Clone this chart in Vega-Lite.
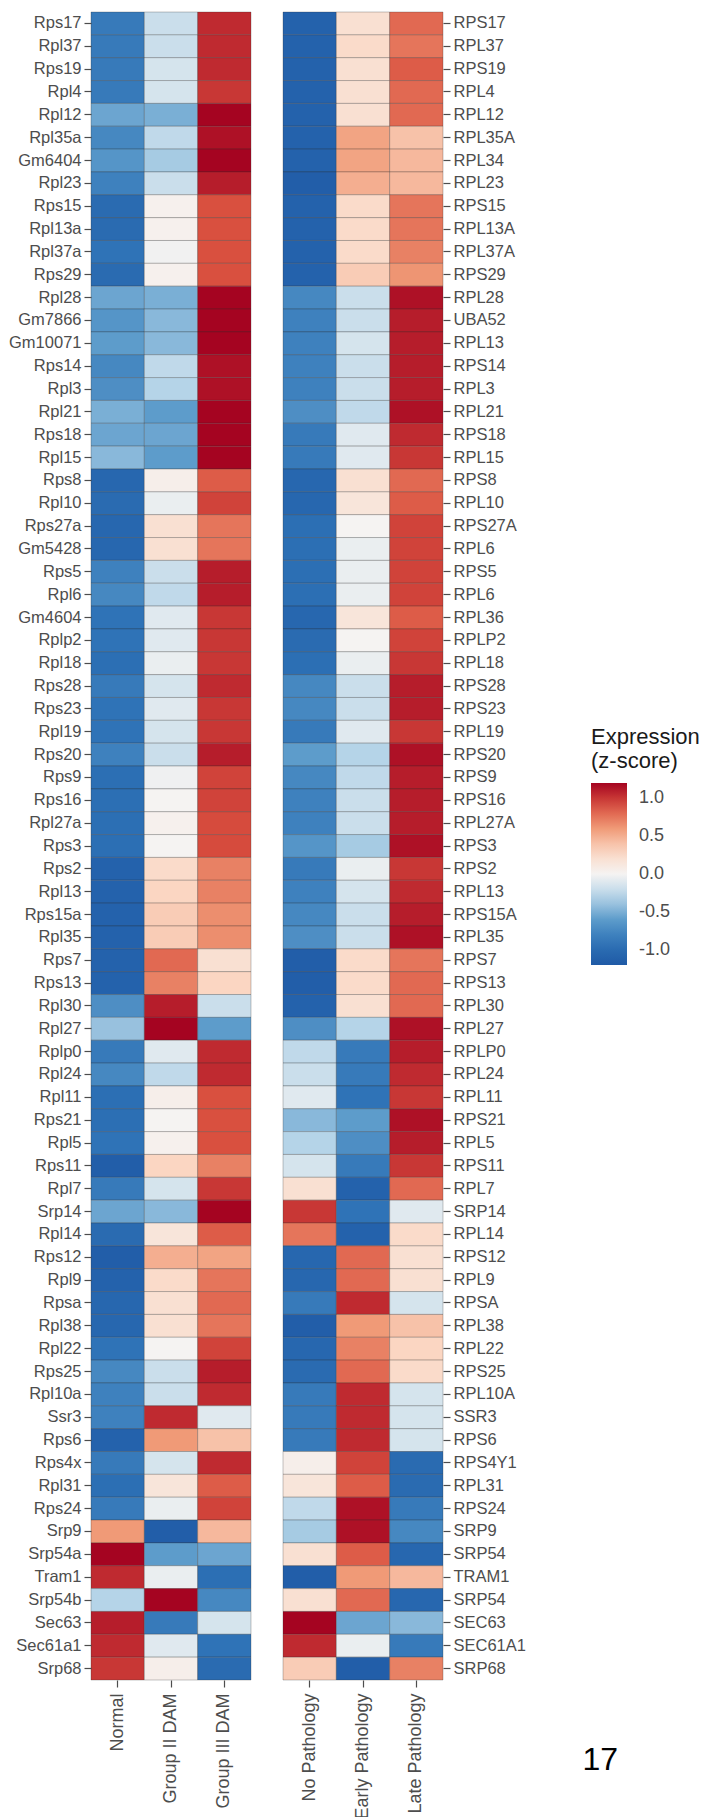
{
"$schema":"https://vega.github.io/schema/vega-lite/v6.json",
"padding":{"left":8,"top":11,"right":0,"bottom":0},
"background":"white",
"spacing":30,
"title":{"text":"17","orient":"bottom","anchor":"end","fontSize":32,"fontWeight":"normal","color":"#000000","font":"Liberation Sans","offset":-74,"dx":-82},
"datasets":{
"left":[
{"g":"Rps17","c":"Normal","v":-0.85},{"g":"Rps17","c":"Group II DAM","v":-0.2},{"g":"Rps17","c":"Group III DAM","v":1.05},
{"g":"Rpl37","c":"Normal","v":-0.85},{"g":"Rpl37","c":"Group II DAM","v":-0.2},{"g":"Rpl37","c":"Group III DAM","v":1.05},
{"g":"Rps19","c":"Normal","v":-0.85},{"g":"Rps19","c":"Group II DAM","v":-0.15},{"g":"Rps19","c":"Group III DAM","v":1.05},
{"g":"Rpl4","c":"Normal","v":-0.85},{"g":"Rpl4","c":"Group II DAM","v":-0.15},{"g":"Rpl4","c":"Group III DAM","v":1.0},
{"g":"Rpl12","c":"Normal","v":-0.55},{"g":"Rpl12","c":"Group II DAM","v":-0.5},{"g":"Rpl12","c":"Group III DAM","v":1.2},
{"g":"Rpl35a","c":"Normal","v":-0.75},{"g":"Rpl35a","c":"Group II DAM","v":-0.25},{"g":"Rpl35a","c":"Group III DAM","v":1.15},
{"g":"Gm6404","c":"Normal","v":-0.65},{"g":"Gm6404","c":"Group II DAM","v":-0.35},{"g":"Gm6404","c":"Group III DAM","v":1.2},
{"g":"Rpl23","c":"Normal","v":-0.8},{"g":"Rpl23","c":"Group II DAM","v":-0.2},{"g":"Rpl23","c":"Group III DAM","v":1.1},
{"g":"Rps15","c":"Normal","v":-1.0},{"g":"Rps15","c":"Group II DAM","v":0.03},{"g":"Rps15","c":"Group III DAM","v":0.9},
{"g":"Rpl13a","c":"Normal","v":-1.0},{"g":"Rpl13a","c":"Group II DAM","v":0.03},{"g":"Rpl13a","c":"Group III DAM","v":0.9},
{"g":"Rpl37a","c":"Normal","v":-0.9},{"g":"Rpl37a","c":"Group II DAM","v":-0.02},{"g":"Rpl37a","c":"Group III DAM","v":0.9},
{"g":"Rps29","c":"Normal","v":-1.0},{"g":"Rps29","c":"Group II DAM","v":0.03},{"g":"Rps29","c":"Group III DAM","v":0.9},
{"g":"Rpl28","c":"Normal","v":-0.55},{"g":"Rpl28","c":"Group II DAM","v":-0.5},{"g":"Rpl28","c":"Group III DAM","v":1.2},
{"g":"Gm7866","c":"Normal","v":-0.65},{"g":"Gm7866","c":"Group II DAM","v":-0.45},{"g":"Gm7866","c":"Group III DAM","v":1.2},
{"g":"Gm10071","c":"Normal","v":-0.6},{"g":"Gm10071","c":"Group II DAM","v":-0.45},{"g":"Gm10071","c":"Group III DAM","v":1.2},
{"g":"Rps14","c":"Normal","v":-0.75},{"g":"Rps14","c":"Group II DAM","v":-0.25},{"g":"Rps14","c":"Group III DAM","v":1.15},
{"g":"Rpl3","c":"Normal","v":-0.7},{"g":"Rpl3","c":"Group II DAM","v":-0.3},{"g":"Rpl3","c":"Group III DAM","v":1.15},
{"g":"Rpl21","c":"Normal","v":-0.5},{"g":"Rpl21","c":"Group II DAM","v":-0.6},{"g":"Rpl21","c":"Group III DAM","v":1.2},
{"g":"Rps18","c":"Normal","v":-0.55},{"g":"Rps18","c":"Group II DAM","v":-0.55},{"g":"Rps18","c":"Group III DAM","v":1.2},
{"g":"Rpl15","c":"Normal","v":-0.45},{"g":"Rpl15","c":"Group II DAM","v":-0.6},{"g":"Rpl15","c":"Group III DAM","v":1.2},
{"g":"Rps8","c":"Normal","v":-1.05},{"g":"Rps8","c":"Group II DAM","v":0.05},{"g":"Rps8","c":"Group III DAM","v":0.85},
{"g":"Rpl10","c":"Normal","v":-1.0},{"g":"Rpl10","c":"Group II DAM","v":-0.05},{"g":"Rpl10","c":"Group III DAM","v":0.95},
{"g":"Rps27a","c":"Normal","v":-1.05},{"g":"Rps27a","c":"Group II DAM","v":0.2},{"g":"Rps27a","c":"Group III DAM","v":0.75},
{"g":"Gm5428","c":"Normal","v":-1.05},{"g":"Gm5428","c":"Group II DAM","v":0.2},{"g":"Gm5428","c":"Group III DAM","v":0.75},
{"g":"Rps5","c":"Normal","v":-0.8},{"g":"Rps5","c":"Group II DAM","v":-0.2},{"g":"Rps5","c":"Group III DAM","v":1.1},
{"g":"Rpl6","c":"Normal","v":-0.75},{"g":"Rpl6","c":"Group II DAM","v":-0.25},{"g":"Rpl6","c":"Group III DAM","v":1.1},
{"g":"Gm4604","c":"Normal","v":-0.9},{"g":"Gm4604","c":"Group II DAM","v":-0.1},{"g":"Gm4604","c":"Group III DAM","v":1.0},
{"g":"Rplp2","c":"Normal","v":-0.9},{"g":"Rplp2","c":"Group II DAM","v":-0.1},{"g":"Rplp2","c":"Group III DAM","v":1.0},
{"g":"Rpl18","c":"Normal","v":-0.95},{"g":"Rpl18","c":"Group II DAM","v":-0.05},{"g":"Rpl18","c":"Group III DAM","v":1.0},
{"g":"Rps28","c":"Normal","v":-0.85},{"g":"Rps28","c":"Group II DAM","v":-0.15},{"g":"Rps28","c":"Group III DAM","v":1.05},
{"g":"Rps23","c":"Normal","v":-0.9},{"g":"Rps23","c":"Group II DAM","v":-0.1},{"g":"Rps23","c":"Group III DAM","v":1.0},
{"g":"Rpl19","c":"Normal","v":-0.9},{"g":"Rpl19","c":"Group II DAM","v":-0.15},{"g":"Rpl19","c":"Group III DAM","v":1.0},
{"g":"Rps20","c":"Normal","v":-0.8},{"g":"Rps20","c":"Group II DAM","v":-0.2},{"g":"Rps20","c":"Group III DAM","v":1.1},
{"g":"Rps9","c":"Normal","v":-0.95},{"g":"Rps9","c":"Group II DAM","v":-0.03},{"g":"Rps9","c":"Group III DAM","v":0.95},
{"g":"Rps16","c":"Normal","v":-0.95},{"g":"Rps16","c":"Group II DAM","v":0.0},{"g":"Rps16","c":"Group III DAM","v":0.95},
{"g":"Rpl27a","c":"Normal","v":-0.95},{"g":"Rpl27a","c":"Group II DAM","v":0.03},{"g":"Rpl27a","c":"Group III DAM","v":0.92},
{"g":"Rps3","c":"Normal","v":-0.95},{"g":"Rps3","c":"Group II DAM","v":0.0},{"g":"Rps3","c":"Group III DAM","v":0.92},
{"g":"Rps2","c":"Normal","v":-1.1},{"g":"Rps2","c":"Group II DAM","v":0.25},{"g":"Rps2","c":"Group III DAM","v":0.7},
{"g":"Rpl13","c":"Normal","v":-1.1},{"g":"Rpl13","c":"Group II DAM","v":0.3},{"g":"Rpl13","c":"Group III DAM","v":0.7},
{"g":"Rps15a","c":"Normal","v":-1.1},{"g":"Rps15a","c":"Group II DAM","v":0.35},{"g":"Rps15a","c":"Group III DAM","v":0.65},
{"g":"Rpl35","c":"Normal","v":-1.1},{"g":"Rpl35","c":"Group II DAM","v":0.35},{"g":"Rpl35","c":"Group III DAM","v":0.65},
{"g":"Rps7","c":"Normal","v":-1.1},{"g":"Rps7","c":"Group II DAM","v":0.8},{"g":"Rps7","c":"Group III DAM","v":0.2},
{"g":"Rps13","c":"Normal","v":-1.1},{"g":"Rps13","c":"Group II DAM","v":0.7},{"g":"Rps13","c":"Group III DAM","v":0.3},
{"g":"Rpl30","c":"Normal","v":-0.7},{"g":"Rpl30","c":"Group II DAM","v":1.1},{"g":"Rpl30","c":"Group III DAM","v":-0.2},
{"g":"Rpl27","c":"Normal","v":-0.4},{"g":"Rpl27","c":"Group II DAM","v":1.2},{"g":"Rpl27","c":"Group III DAM","v":-0.6},
{"g":"Rplp0","c":"Normal","v":-0.85},{"g":"Rplp0","c":"Group II DAM","v":-0.1},{"g":"Rplp0","c":"Group III DAM","v":1.05},
{"g":"Rpl24","c":"Normal","v":-0.75},{"g":"Rpl24","c":"Group II DAM","v":-0.25},{"g":"Rpl24","c":"Group III DAM","v":1.05},
{"g":"Rpl11","c":"Normal","v":-0.95},{"g":"Rpl11","c":"Group II DAM","v":0.05},{"g":"Rpl11","c":"Group III DAM","v":0.9},
{"g":"Rps21","c":"Normal","v":-0.95},{"g":"Rps21","c":"Group II DAM","v":0.0},{"g":"Rps21","c":"Group III DAM","v":0.9},
{"g":"Rpl5","c":"Normal","v":-0.9},{"g":"Rpl5","c":"Group II DAM","v":0.03},{"g":"Rpl5","c":"Group III DAM","v":0.9},
{"g":"Rps11","c":"Normal","v":-1.15},{"g":"Rps11","c":"Group II DAM","v":0.3},{"g":"Rps11","c":"Group III DAM","v":0.7},
{"g":"Rpl7","c":"Normal","v":-0.85},{"g":"Rpl7","c":"Group II DAM","v":-0.15},{"g":"Rpl7","c":"Group III DAM","v":1.0},
{"g":"Srp14","c":"Normal","v":-0.55},{"g":"Srp14","c":"Group II DAM","v":-0.45},{"g":"Srp14","c":"Group III DAM","v":1.2},
{"g":"Rpl14","c":"Normal","v":-1.0},{"g":"Rpl14","c":"Group II DAM","v":0.15},{"g":"Rpl14","c":"Group III DAM","v":0.85},
{"g":"Rps12","c":"Normal","v":-1.15},{"g":"Rps12","c":"Group II DAM","v":0.5},{"g":"Rps12","c":"Group III DAM","v":0.55},
{"g":"Rpl9","c":"Normal","v":-1.1},{"g":"Rpl9","c":"Group II DAM","v":0.25},{"g":"Rpl9","c":"Group III DAM","v":0.75},
{"g":"Rpsa","c":"Normal","v":-1.05},{"g":"Rpsa","c":"Group II DAM","v":0.2},{"g":"Rpsa","c":"Group III DAM","v":0.8},
{"g":"Rpl38","c":"Normal","v":-1.05},{"g":"Rpl38","c":"Group II DAM","v":0.2},{"g":"Rpl38","c":"Group III DAM","v":0.75},
{"g":"Rpl22","c":"Normal","v":-0.9},{"g":"Rpl22","c":"Group II DAM","v":0.0},{"g":"Rpl22","c":"Group III DAM","v":0.95},
{"g":"Rps25","c":"Normal","v":-0.75},{"g":"Rps25","c":"Group II DAM","v":-0.2},{"g":"Rps25","c":"Group III DAM","v":1.1},
{"g":"Rpl10a","c":"Normal","v":-0.8},{"g":"Rpl10a","c":"Group II DAM","v":-0.2},{"g":"Rpl10a","c":"Group III DAM","v":1.05},
{"g":"Ssr3","c":"Normal","v":-0.8},{"g":"Ssr3","c":"Group II DAM","v":1.05},{"g":"Ssr3","c":"Group III DAM","v":-0.1},
{"g":"Rps6","c":"Normal","v":-1.1},{"g":"Rps6","c":"Group II DAM","v":0.6},{"g":"Rps6","c":"Group III DAM","v":0.4},
{"g":"Rps4x","c":"Normal","v":-0.85},{"g":"Rps4x","c":"Group II DAM","v":-0.15},{"g":"Rps4x","c":"Group III DAM","v":1.05},
{"g":"Rpl31","c":"Normal","v":-0.95},{"g":"Rpl31","c":"Group II DAM","v":0.15},{"g":"Rpl31","c":"Group III DAM","v":0.85},
{"g":"Rps24","c":"Normal","v":-0.85},{"g":"Rps24","c":"Group II DAM","v":-0.05},{"g":"Rps24","c":"Group III DAM","v":0.95},
{"g":"Srp9","c":"Normal","v":0.6},{"g":"Srp9","c":"Group II DAM","v":-1.15},{"g":"Srp9","c":"Group III DAM","v":0.45},
{"g":"Srp54a","c":"Normal","v":1.2},{"g":"Srp54a","c":"Group II DAM","v":-0.6},{"g":"Srp54a","c":"Group III DAM","v":-0.55},
{"g":"Tram1","c":"Normal","v":1.05},{"g":"Tram1","c":"Group II DAM","v":-0.05},{"g":"Tram1","c":"Group III DAM","v":-0.95},
{"g":"Srp54b","c":"Normal","v":-0.3},{"g":"Srp54b","c":"Group II DAM","v":1.2},{"g":"Srp54b","c":"Group III DAM","v":-0.75},
{"g":"Sec63","c":"Normal","v":1.1},{"g":"Sec63","c":"Group II DAM","v":-0.85},{"g":"Sec63","c":"Group III DAM","v":-0.15},
{"g":"Sec61a1","c":"Normal","v":1.05},{"g":"Sec61a1","c":"Group II DAM","v":-0.1},{"g":"Sec61a1","c":"Group III DAM","v":-0.9},
{"g":"Srp68","c":"Normal","v":1.0},{"g":"Srp68","c":"Group II DAM","v":0.05},{"g":"Srp68","c":"Group III DAM","v":-1.0}
],
"right":[
{"g":"RPS17","c":"No Pathology","v":-1.1},{"g":"RPS17","c":"Early Pathology","v":0.2},{"g":"RPS17","c":"Late Pathology","v":0.8},
{"g":"RPL37","c":"No Pathology","v":-1.1},{"g":"RPL37","c":"Early Pathology","v":0.25},{"g":"RPL37","c":"Late Pathology","v":0.75},
{"g":"RPS19","c":"No Pathology","v":-1.1},{"g":"RPS19","c":"Early Pathology","v":0.2},{"g":"RPS19","c":"Late Pathology","v":0.85},
{"g":"RPL4","c":"No Pathology","v":-1.1},{"g":"RPL4","c":"Early Pathology","v":0.2},{"g":"RPL4","c":"Late Pathology","v":0.8},
{"g":"RPL12","c":"No Pathology","v":-1.1},{"g":"RPL12","c":"Early Pathology","v":0.2},{"g":"RPL12","c":"Late Pathology","v":0.8},
{"g":"RPL35A","c":"No Pathology","v":-1.1},{"g":"RPL35A","c":"Early Pathology","v":0.55},{"g":"RPL35A","c":"Late Pathology","v":0.4},
{"g":"RPL34","c":"No Pathology","v":-1.1},{"g":"RPL34","c":"Early Pathology","v":0.55},{"g":"RPL34","c":"Late Pathology","v":0.45},
{"g":"RPL23","c":"No Pathology","v":-1.15},{"g":"RPL23","c":"Early Pathology","v":0.5},{"g":"RPL23","c":"Late Pathology","v":0.45},
{"g":"RPS15","c":"No Pathology","v":-1.1},{"g":"RPS15","c":"Early Pathology","v":0.25},{"g":"RPS15","c":"Late Pathology","v":0.75},
{"g":"RPL13A","c":"No Pathology","v":-1.1},{"g":"RPL13A","c":"Early Pathology","v":0.25},{"g":"RPL13A","c":"Late Pathology","v":0.75},
{"g":"RPL37A","c":"No Pathology","v":-1.1},{"g":"RPL37A","c":"Early Pathology","v":0.25},{"g":"RPL37A","c":"Late Pathology","v":0.7},
{"g":"RPS29","c":"No Pathology","v":-1.1},{"g":"RPS29","c":"Early Pathology","v":0.35},{"g":"RPS29","c":"Late Pathology","v":0.62},
{"g":"RPL28","c":"No Pathology","v":-0.75},{"g":"RPL28","c":"Early Pathology","v":-0.2},{"g":"RPL28","c":"Late Pathology","v":1.15},
{"g":"UBA52","c":"No Pathology","v":-0.8},{"g":"UBA52","c":"Early Pathology","v":-0.2},{"g":"UBA52","c":"Late Pathology","v":1.1},
{"g":"RPL13","c":"No Pathology","v":-0.8},{"g":"RPL13","c":"Early Pathology","v":-0.15},{"g":"RPL13","c":"Late Pathology","v":1.1},
{"g":"RPS14","c":"No Pathology","v":-0.8},{"g":"RPS14","c":"Early Pathology","v":-0.2},{"g":"RPS14","c":"Late Pathology","v":1.1},
{"g":"RPL3","c":"No Pathology","v":-0.8},{"g":"RPL3","c":"Early Pathology","v":-0.2},{"g":"RPL3","c":"Late Pathology","v":1.1},
{"g":"RPL21","c":"No Pathology","v":-0.7},{"g":"RPL21","c":"Early Pathology","v":-0.25},{"g":"RPL21","c":"Late Pathology","v":1.15},
{"g":"RPS18","c":"No Pathology","v":-0.85},{"g":"RPS18","c":"Early Pathology","v":-0.1},{"g":"RPS18","c":"Late Pathology","v":1.05},
{"g":"RPL15","c":"No Pathology","v":-0.85},{"g":"RPL15","c":"Early Pathology","v":-0.1},{"g":"RPL15","c":"Late Pathology","v":1.0},
{"g":"RPS8","c":"No Pathology","v":-1.05},{"g":"RPS8","c":"Early Pathology","v":0.2},{"g":"RPS8","c":"Late Pathology","v":0.8},
{"g":"RPL10","c":"No Pathology","v":-1.05},{"g":"RPL10","c":"Early Pathology","v":0.15},{"g":"RPL10","c":"Late Pathology","v":0.85},
{"g":"RPS27A","c":"No Pathology","v":-0.95},{"g":"RPS27A","c":"Early Pathology","v":0.0},{"g":"RPS27A","c":"Late Pathology","v":0.95},
{"g":"RPL6","c":"No Pathology","v":-0.95},{"g":"RPL6","c":"Early Pathology","v":-0.05},{"g":"RPL6","c":"Late Pathology","v":0.95},
{"g":"RPS5","c":"No Pathology","v":-0.95},{"g":"RPS5","c":"Early Pathology","v":-0.05},{"g":"RPS5","c":"Late Pathology","v":0.95},
{"g":"RPL6 ","c":"No Pathology","v":-0.95},{"g":"RPL6 ","c":"Early Pathology","v":-0.05},{"g":"RPL6 ","c":"Late Pathology","v":0.95},
{"g":"RPL36","c":"No Pathology","v":-1.05},{"g":"RPL36","c":"Early Pathology","v":0.15},{"g":"RPL36","c":"Late Pathology","v":0.85},
{"g":"RPLP2","c":"No Pathology","v":-1.0},{"g":"RPLP2","c":"Early Pathology","v":0.0},{"g":"RPLP2","c":"Late Pathology","v":0.95},
{"g":"RPL18","c":"No Pathology","v":-0.95},{"g":"RPL18","c":"Early Pathology","v":-0.05},{"g":"RPL18","c":"Late Pathology","v":1.0},
{"g":"RPS28","c":"No Pathology","v":-0.75},{"g":"RPS28","c":"Early Pathology","v":-0.2},{"g":"RPS28","c":"Late Pathology","v":1.1},
{"g":"RPS23","c":"No Pathology","v":-0.75},{"g":"RPS23","c":"Early Pathology","v":-0.2},{"g":"RPS23","c":"Late Pathology","v":1.1},
{"g":"RPL19","c":"No Pathology","v":-0.85},{"g":"RPL19","c":"Early Pathology","v":-0.1},{"g":"RPL19","c":"Late Pathology","v":1.0},
{"g":"RPS20","c":"No Pathology","v":-0.6},{"g":"RPS20","c":"Early Pathology","v":-0.3},{"g":"RPS20","c":"Late Pathology","v":1.15},
{"g":"RPS9","c":"No Pathology","v":-0.75},{"g":"RPS9","c":"Early Pathology","v":-0.25},{"g":"RPS9","c":"Late Pathology","v":1.1},
{"g":"RPS16","c":"No Pathology","v":-0.8},{"g":"RPS16","c":"Early Pathology","v":-0.2},{"g":"RPS16","c":"Late Pathology","v":1.1},
{"g":"RPL27A","c":"No Pathology","v":-0.8},{"g":"RPL27A","c":"Early Pathology","v":-0.2},{"g":"RPL27A","c":"Late Pathology","v":1.1},
{"g":"RPS3","c":"No Pathology","v":-0.65},{"g":"RPS3","c":"Early Pathology","v":-0.35},{"g":"RPS3","c":"Late Pathology","v":1.15},
{"g":"RPS2","c":"No Pathology","v":-0.85},{"g":"RPS2","c":"Early Pathology","v":-0.05},{"g":"RPS2","c":"Late Pathology","v":1.0},
{"g":"RPL13 ","c":"No Pathology","v":-0.8},{"g":"RPL13 ","c":"Early Pathology","v":-0.15},{"g":"RPL13 ","c":"Late Pathology","v":1.05},
{"g":"RPS15A","c":"No Pathology","v":-0.75},{"g":"RPS15A","c":"Early Pathology","v":-0.2},{"g":"RPS15A","c":"Late Pathology","v":1.1},
{"g":"RPL35","c":"No Pathology","v":-0.7},{"g":"RPL35","c":"Early Pathology","v":-0.2},{"g":"RPL35","c":"Late Pathology","v":1.15},
{"g":"RPS7","c":"No Pathology","v":-1.15},{"g":"RPS7","c":"Early Pathology","v":0.25},{"g":"RPS7","c":"Late Pathology","v":0.75},
{"g":"RPS13","c":"No Pathology","v":-1.15},{"g":"RPS13","c":"Early Pathology","v":0.25},{"g":"RPS13","c":"Late Pathology","v":0.8},
{"g":"RPL30","c":"No Pathology","v":-1.1},{"g":"RPL30","c":"Early Pathology","v":0.2},{"g":"RPL30","c":"Late Pathology","v":0.8},
{"g":"RPL27","c":"No Pathology","v":-0.7},{"g":"RPL27","c":"Early Pathology","v":-0.3},{"g":"RPL27","c":"Late Pathology","v":1.15},
{"g":"RPLP0","c":"No Pathology","v":-0.25},{"g":"RPLP0","c":"Early Pathology","v":-0.85},{"g":"RPLP0","c":"Late Pathology","v":1.1},
{"g":"RPL24","c":"No Pathology","v":-0.2},{"g":"RPL24","c":"Early Pathology","v":-0.85},{"g":"RPL24","c":"Late Pathology","v":1.05},
{"g":"RPL11","c":"No Pathology","v":-0.1},{"g":"RPL11","c":"Early Pathology","v":-0.9},{"g":"RPL11","c":"Late Pathology","v":1.0},
{"g":"RPS21","c":"No Pathology","v":-0.45},{"g":"RPS21","c":"Early Pathology","v":-0.6},{"g":"RPS21","c":"Late Pathology","v":1.15},
{"g":"RPL5","c":"No Pathology","v":-0.3},{"g":"RPL5","c":"Early Pathology","v":-0.7},{"g":"RPL5","c":"Late Pathology","v":1.1},
{"g":"RPS11","c":"No Pathology","v":-0.15},{"g":"RPS11","c":"Early Pathology","v":-0.85},{"g":"RPS11","c":"Late Pathology","v":1.0},
{"g":"RPL7","c":"No Pathology","v":0.2},{"g":"RPL7","c":"Early Pathology","v":-1.1},{"g":"RPL7","c":"Late Pathology","v":0.8},
{"g":"SRP14","c":"No Pathology","v":1.0},{"g":"SRP14","c":"Early Pathology","v":-0.9},{"g":"SRP14","c":"Late Pathology","v":-0.1},
{"g":"RPL14","c":"No Pathology","v":0.75},{"g":"RPL14","c":"Early Pathology","v":-1.1},{"g":"RPL14","c":"Late Pathology","v":0.25},
{"g":"RPS12","c":"No Pathology","v":-1.05},{"g":"RPS12","c":"Early Pathology","v":0.8},{"g":"RPS12","c":"Late Pathology","v":0.2},
{"g":"RPL9","c":"No Pathology","v":-1.05},{"g":"RPL9","c":"Early Pathology","v":0.8},{"g":"RPL9","c":"Late Pathology","v":0.2},
{"g":"RPSA","c":"No Pathology","v":-0.85},{"g":"RPSA","c":"Early Pathology","v":1.05},{"g":"RPSA","c":"Late Pathology","v":-0.15},
{"g":"RPL38","c":"No Pathology","v":-1.15},{"g":"RPL38","c":"Early Pathology","v":0.6},{"g":"RPL38","c":"Late Pathology","v":0.4},
{"g":"RPL22","c":"No Pathology","v":-1.05},{"g":"RPL22","c":"Early Pathology","v":0.7},{"g":"RPL22","c":"Late Pathology","v":0.3},
{"g":"RPS25","c":"No Pathology","v":-1.0},{"g":"RPS25","c":"Early Pathology","v":0.8},{"g":"RPS25","c":"Late Pathology","v":0.25},
{"g":"RPL10A","c":"No Pathology","v":-0.85},{"g":"RPL10A","c":"Early Pathology","v":1.05},{"g":"RPL10A","c":"Late Pathology","v":-0.15},
{"g":"SSR3","c":"No Pathology","v":-0.85},{"g":"SSR3","c":"Early Pathology","v":1.05},{"g":"SSR3","c":"Late Pathology","v":-0.15},
{"g":"RPS6","c":"No Pathology","v":-0.85},{"g":"RPS6","c":"Early Pathology","v":1.05},{"g":"RPS6","c":"Late Pathology","v":-0.15},
{"g":"RPS4Y1","c":"No Pathology","v":0.05},{"g":"RPS4Y1","c":"Early Pathology","v":0.95},{"g":"RPS4Y1","c":"Late Pathology","v":-1.0},
{"g":"RPL31","c":"No Pathology","v":0.15},{"g":"RPL31","c":"Early Pathology","v":0.85},{"g":"RPL31","c":"Late Pathology","v":-1.0},
{"g":"RPS24","c":"No Pathology","v":-0.25},{"g":"RPS24","c":"Early Pathology","v":1.15},{"g":"RPS24","c":"Late Pathology","v":-0.85},
{"g":"SRP9","c":"No Pathology","v":-0.35},{"g":"SRP9","c":"Early Pathology","v":1.15},{"g":"SRP9","c":"Late Pathology","v":-0.75},
{"g":"SRP54","c":"No Pathology","v":0.2},{"g":"SRP54","c":"Early Pathology","v":0.85},{"g":"SRP54","c":"Late Pathology","v":-1.05},
{"g":"TRAM1","c":"No Pathology","v":-1.15},{"g":"TRAM1","c":"Early Pathology","v":0.6},{"g":"TRAM1","c":"Late Pathology","v":0.45},
{"g":"SRP54 ","c":"No Pathology","v":0.2},{"g":"SRP54 ","c":"Early Pathology","v":0.8},{"g":"SRP54 ","c":"Late Pathology","v":-1.05},
{"g":"SEC63","c":"No Pathology","v":1.2},{"g":"SEC63","c":"Early Pathology","v":-0.55},{"g":"SEC63","c":"Late Pathology","v":-0.45},
{"g":"SEC61A1","c":"No Pathology","v":1.05},{"g":"SEC61A1","c":"Early Pathology","v":-0.05},{"g":"SEC61A1","c":"Late Pathology","v":-0.85},
{"g":"SRP68","c":"No Pathology","v":0.35},{"g":"SRP68","c":"Early Pathology","v":-1.15},{"g":"SRP68","c":"Late Pathology","v":0.7}
]
},
"hconcat":[
{"data":{"name":"left"},"width":160,"height":1668,
"mark":{"type":"rect","stroke":"#2b2b2b","strokeWidth":0.5,"strokeOpacity":0.55},
"encoding":{
"x":{"field":"c","type":"nominal","sort":null,"scale":{"paddingInner":0,"paddingOuter":0},"axis":{"orient":"bottom","labelAngle":-90,"labelAlign":"right","labelBaseline":"middle","tickSize":7,"labelPadding":6,"labelFontSize":18}},
"y":{"field":"g","type":"nominal","sort":null,"scale":{"paddingInner":0,"paddingOuter":0},"axis":{"orient":"left","tickSize":7,"labelPadding":3}},
"color":{"field":"v","type":"quantitative","scale":{"domain":[-1.2,-0.9,-0.6,-0.3,0,0.3,0.6,0.9,1.2],"range":["#1f5aa6","#2f73b7","#5d9ccb","#b5d4e8","#f5f3f2","#fbd6c2","#f09a77","#d9503f","#a50421"],"interpolate":"rgb","clamp":true},
"legend":{"orient":"none","legendX":500,"legendY":715,"direction":"vertical","gradientLength":182,"gradientThickness":36,"title":["Expression","(z-score)"],"titleFontSize":22,"titleLineHeight":24,"titleFont":"Liberation Sans","titleFontWeight":"normal","titleColor":"#1a1a1a","titlePadding":10,"labelFontSize":18,"labelColor":"#4d4d4d","labelFont":"Liberation Sans","labelOffset":12,"values":[-1,-0.5,0,0.5,1],"labelExpr":"replace(format(datum.value,'.1f'),'\u2212','-')","gradientStrokeWidth":0}}
}},
{"data":{"name":"right"},"width":160,"height":1668,
"mark":{"type":"rect","stroke":"#2b2b2b","strokeWidth":0.5,"strokeOpacity":0.55},
"encoding":{
"x":{"field":"c","type":"nominal","sort":null,"scale":{"paddingInner":0,"paddingOuter":0},"axis":{"orient":"bottom","labelAngle":-90,"labelAlign":"right","labelBaseline":"middle","tickSize":7,"labelPadding":6,"labelFontSize":18}},
"y":{"field":"g","type":"nominal","sort":null,"scale":{"paddingInner":0,"paddingOuter":0},"axis":{"orient":"right","tickSize":7,"labelPadding":3}},
"color":{"field":"v","type":"quantitative","scale":{"domain":[-1.2,-0.9,-0.6,-0.3,0,0.3,0.6,0.9,1.2],"range":["#1f5aa6","#2f73b7","#5d9ccb","#b5d4e8","#f5f3f2","#fbd6c2","#f09a77","#d9503f","#a50421"],"interpolate":"rgb","clamp":true},
"legend":{"orient":"none","legendX":500,"legendY":715,"direction":"vertical","gradientLength":182,"gradientThickness":36,"title":["Expression","(z-score)"],"titleFontSize":22,"titleLineHeight":24,"titleFont":"Liberation Sans","titleFontWeight":"normal","titleColor":"#1a1a1a","titlePadding":10,"labelFontSize":18,"labelColor":"#4d4d4d","labelFont":"Liberation Sans","labelOffset":12,"values":[-1,-0.5,0,0.5,1],"labelExpr":"replace(format(datum.value,'.1f'),'\u2212','-')","gradientStrokeWidth":0}}
}}
],
"resolve":{"scale":{"color":"shared","x":"independent","y":"independent"},"legend":{"color":"shared"}},
"config":{
"view":{"stroke":null},
"axis":{"labelFont":"Liberation Sans","labelFontSize":16.5,"labelColor":"#4d4d4d","tickColor":"#4d4d4d","tickWidth":1.2,"domain":false,"grid":false,"title":null}
}
}
